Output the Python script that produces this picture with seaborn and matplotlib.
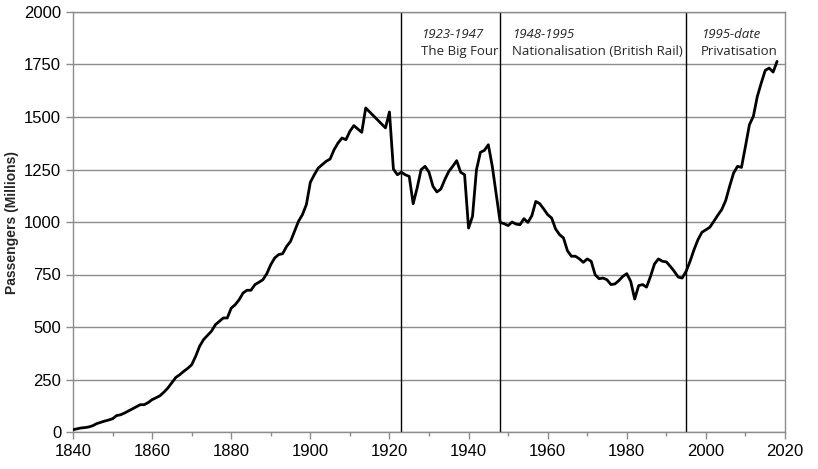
import matplotlib
matplotlib.use("Agg")
import matplotlib.pyplot as plt
import seaborn as sns
import pandas as pd
from matplotlib.ticker import MultipleLocator

years = [1840, 1841, 1842, 1843, 1844, 1845, 1846, 1847, 1848, 1849,
         1850, 1851, 1852, 1853, 1854, 1855, 1856, 1857, 1858, 1859,
         1860, 1861, 1862, 1863, 1864, 1865, 1866, 1867, 1868, 1869,
         1870, 1871, 1872, 1873, 1874, 1875, 1876, 1877, 1878, 1879,
         1880, 1881, 1882, 1883, 1884, 1885, 1886, 1887, 1888, 1889,
         1890, 1891, 1892, 1893, 1894, 1895, 1896, 1897, 1898, 1899,
         1900, 1901, 1902, 1903, 1904, 1905, 1906, 1907, 1908, 1909,
         1910, 1911, 1912, 1913, 1914, 1919,
         1920, 1921, 1922, 1923, 1924, 1925, 1926, 1927, 1928, 1929,
         1930, 1931, 1932, 1933, 1934, 1935, 1936, 1937, 1938, 1939,
         1940, 1941, 1942, 1943, 1944, 1945, 1946, 1947, 1948, 1949,
         1950, 1951, 1952, 1953, 1954, 1955, 1956, 1957, 1958, 1959,
         1960, 1961, 1962, 1963, 1964, 1965, 1966, 1967, 1968, 1969,
         1970, 1971, 1972, 1973, 1974, 1975, 1976, 1977, 1978, 1979,
         1980, 1981, 1982, 1983, 1984, 1985, 1986, 1987, 1988, 1989,
         1990, 1991, 1992, 1993, 1994, 1995, 1996, 1997, 1998, 1999,
         2000, 2001, 2002, 2003, 2004, 2005, 2006, 2007, 2008, 2009,
         2010, 2011, 2012, 2013, 2014, 2015, 2016, 2017, 2018]

passengers = [11, 15, 19, 21, 24, 30, 40, 46, 52, 57,
              63, 78, 82, 90, 100, 110, 120, 130, 130, 140,
              154, 163, 173, 190, 210, 235, 260, 273, 289, 303,
              320, 360, 408, 440, 460, 480, 511, 527, 543, 543,
              590, 606, 630, 662, 675, 675, 702, 713, 725, 754,
              797, 829, 845, 849, 884, 908, 956, 1003, 1035, 1083,
              1189, 1225, 1257, 1273, 1289, 1300, 1344, 1376, 1400, 1392,
              1432, 1459, 1443, 1427, 1543, 1448,
              1524, 1252, 1225, 1237, 1225, 1217, 1087, 1162, 1249, 1265,
              1237, 1170, 1143, 1157, 1202, 1241, 1265, 1292, 1237, 1225,
              971, 1027, 1249, 1332, 1341, 1368, 1265, 1130, 998, 992,
              983, 1000, 990, 987, 1016, 998, 1030, 1098, 1087, 1062,
              1035, 1019, 967, 940, 924, 863, 837, 837, 825, 808,
              824, 813, 749, 730, 733, 725, 702, 705, 721, 741,
              754, 717, 633, 697, 702, 690, 741, 800, 824, 813,
              810, 789, 765, 738, 733, 765, 813, 868, 916, 951,
              963, 975, 1003, 1032, 1059, 1102, 1170, 1233, 1265, 1260,
              1360, 1463, 1503, 1598, 1662, 1722, 1733, 1714, 1765]

era_starts = [1923, 1948, 1995]
era_dates = ["1923-1947", "1948-1995", "1995-date"]
era_names = ["The Big Four", "Nationalisation (British Rail)", "Privatisation"]

df = pd.DataFrame({"Year": years, "Passengers": passengers})

sns.set_style("white")
plt.rcParams["font.family"] = ["Liberation Sans", "DejaVu Sans"]

fig = plt.figure(figsize=(8.18, 4.69), dpi=100)
ax = fig.add_axes([73 / 818, 1 - 432 / 469, 712 / 818, 420 / 469])

sns.lineplot(data=df, x="Year", y="Passengers", color="black", linewidth=2.0, ax=ax, zorder=3)

for yr in era_starts:
    ax.axvline(yr, color="black", linewidth=1.0, zorder=2)

label_offsets = [5.0, 3.0, 3.8]
for yr, off, d, n in zip(era_starts, label_offsets, era_dates, era_names):
    ax.text(yr + off, 1893, d, fontsize=9.5, style="italic", ha="left", va="center",
            family=["Open Sans", "DejaVu Sans"])
    ax.text(yr + off, 1810, n, fontsize=9.5, ha="left", va="center",
            family=["Open Sans", "DejaVu Sans"])

ax.set_xlim(1840, 2020)
ax.set_ylim(0, 2000)
ax.xaxis.set_major_locator(MultipleLocator(20))
ax.xaxis.set_minor_locator(MultipleLocator(10))
ax.yaxis.set_major_locator(MultipleLocator(250))
ax.grid(axis="y", color="#8c8c8c", linewidth=1.0, zorder=1)
ax.set_axisbelow(True)

for s in ax.spines.values():
    s.set_color("#8c8c8c")
    s.set_linewidth(1.0)

ax.tick_params(axis="both", which="major", labelsize=12, colors="#8c8c8c", labelcolor="black",
               direction="out", length=5, width=1, left=True, bottom=True)
ax.tick_params(axis="x", which="minor", colors="#8c8c8c", direction="out", length=3, width=1, bottom=True)

ax.set_xlabel("")
ax.set_ylabel("Passengers (Millions)", fontsize=10, fontweight="bold", labelpad=4)

fig.savefig("out.png", dpi=100)
